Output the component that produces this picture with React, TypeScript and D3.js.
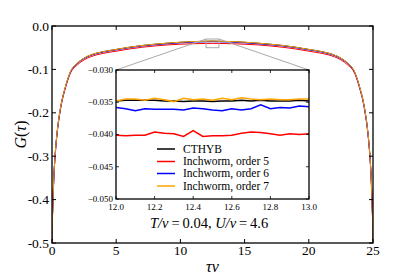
import React from "react";
import * as d3 from "d3";

const tau = [0, 0.03, 0.08, 0.15, 0.25, 0.4, 0.6, 0.8, 1.0, 1.4, 2.0, 2.5, 3, 4, 5, 6, 7, 8, 9, 10, 11, 12, 12.5, 13, 14, 15, 16, 17, 18, 19, 20, 21, 22, 22.5, 23, 23.6, 24, 24.2, 24.4, 24.6, 24.75, 24.85, 24.92, 24.97, 25];
const gCthyb = [-0.5, -0.45, -0.4, -0.345, -0.295, -0.245, -0.2, -0.168, -0.145, -0.108, -0.085, -0.074, -0.067, -0.059, -0.054, -0.049, -0.045, -0.042, -0.0395, -0.0375, -0.036, -0.0352, -0.0348, -0.0352, -0.036, -0.0375, -0.0395, -0.042, -0.045, -0.049, -0.054, -0.059, -0.067, -0.074, -0.085, -0.108, -0.145, -0.168, -0.2, -0.245, -0.295, -0.345, -0.4, -0.45, -0.5];
const gOrder5 = [-0.5, -0.45, -0.4, -0.346, -0.297, -0.247, -0.203, -0.171, -0.148, -0.111, -0.089, -0.078, -0.071, -0.063, -0.058, -0.053, -0.049, -0.046, -0.0435, -0.042, -0.0408, -0.0402, -0.0401, -0.0402, -0.0408, -0.042, -0.0435, -0.046, -0.049, -0.053, -0.058, -0.063, -0.071, -0.078, -0.089, -0.111, -0.148, -0.171, -0.203, -0.247, -0.297, -0.346, -0.4, -0.45, -0.5];
const gOrder6 = [-0.5, -0.45, -0.4, -0.345, -0.296, -0.246, -0.201, -0.169, -0.146, -0.109, -0.086, -0.075, -0.068, -0.060, -0.055, -0.050, -0.046, -0.0432, -0.0408, -0.0388, -0.0372, -0.0364, -0.0361, -0.0364, -0.0372, -0.0388, -0.0408, -0.0432, -0.046, -0.050, -0.055, -0.060, -0.068, -0.075, -0.086, -0.109, -0.146, -0.169, -0.201, -0.246, -0.296, -0.345, -0.4, -0.45, -0.5];
const gOrder7 = [-0.5, -0.45, -0.4, -0.345, -0.295, -0.245, -0.2, -0.168, -0.145, -0.108, -0.085, -0.074, -0.067, -0.059, -0.054, -0.049, -0.045, -0.042, -0.0394, -0.0374, -0.0359, -0.0350, -0.0346, -0.0350, -0.0359, -0.0374, -0.0394, -0.042, -0.045, -0.049, -0.054, -0.059, -0.067, -0.074, -0.085, -0.108, -0.145, -0.168, -0.2, -0.245, -0.295, -0.345, -0.4, -0.45, -0.5];

const insetTau = [12.0, 12.05, 12.1, 12.15, 12.2, 12.25, 12.3, 12.35, 12.4, 12.45, 12.5, 12.55, 12.6, 12.65, 12.7, 12.75, 12.8, 12.85, 12.9, 12.95, 13.0];
const insetCthyb = [-0.0348, -0.0347, -0.0347, -0.0347, -0.0347, -0.0348, -0.0348, -0.0349, -0.0348, -0.0348, -0.0349, -0.0348, -0.0348, -0.0347, -0.0348, -0.0347, -0.0348, -0.0348, -0.0348, -0.0347, -0.0348];
const insetOrder5 = [-0.0401, -0.0402, -0.0401, -0.0401, -0.0396, -0.0398, -0.0399, -0.0403, -0.0394, -0.0403, -0.0402, -0.0402, -0.0401, -0.0398, -0.0396, -0.0397, -0.0399, -0.0401, -0.0399, -0.04, -0.0399];
const insetOrder6 = [-0.0358, -0.036, -0.0363, -0.036, -0.0361, -0.0361, -0.0361, -0.0362, -0.0359, -0.036, -0.0362, -0.0363, -0.036, -0.0362, -0.036, -0.0354, -0.036, -0.0358, -0.0359, -0.0356, -0.0357];
const insetOrder7 = [-0.0348, -0.0345, -0.0345, -0.0347, -0.0344, -0.0346, -0.0349, -0.0344, -0.0346, -0.0345, -0.0347, -0.0344, -0.0346, -0.0343, -0.0345, -0.0346, -0.0345, -0.0346, -0.0346, -0.0345, -0.0345];

const seriesNames = ["CTHYB", "Inchworm, order 5", "Inchworm, order 6", "Inchworm, order 7"];
const seriesColors = ["#000000", "#ff0000", "#0000ff", "#ffa500"];

const mainXTicks = [0, 5, 10, 15, 20, 25];
const mainYTicks = [0, -0.1, -0.2, -0.3, -0.4, -0.5];
const mainYTickLabels = ["0.0", "-0.1", "-0.2", "-0.3", "-0.4", "-0.5"];
const insetXTicks = [12.0, 12.2, 12.4, 12.6, 12.8, 13.0];
const insetXTickLabels = ["12.0", "12.2", "12.4", "12.6", "12.8", "13.0"];
const insetYTicks = [-0.03, -0.035, -0.04, -0.045, -0.05];
const insetYTickLabels = ["\u22120.030", "\u22120.035", "\u22120.040", "\u22120.045", "\u22120.050"];

const SERIF = "'Liberation Serif', 'Times New Roman', serif";

export default function App() {
  const L = 52, R = 373, T = 26, B = 243;
  const x = d3.scaleLinear().domain([0, 25]).range([L, R]);
  const y = d3.scaleLinear().domain([-0.5, 0]).range([B, T]);
  const iL = 116, iR = 309, iT = 70, iB = 199;
  const xi = d3.scaleLinear().domain([12, 13]).range([iL, iR]);
  const yi = d3.scaleLinear().domain([-0.05, -0.03]).range([iB, iT]);

  const mainSeries = [gCthyb, gOrder5, gOrder6, gOrder7];
  const insetSeries = [insetCthyb, insetOrder5, insetOrder6, insetOrder7];

  const mainLine = (vals: number[]) =>
    d3.line<number>().x((_, i) => x(tau[i])).y((v) => y(v)).curve(d3.curveMonotoneX)(vals) || "";
  const insetLine = (vals: number[]) =>
    d3.line<number>().x((_, i) => xi(insetTau[i])).y((v) => yi(v))(vals) || "";

  const rx0 = x(12), rx1 = x(13), ry0 = y(-0.03), ry1 = y(-0.05);
  const legendRows = [149, 161.5, 173.5, 186];

  return (
    <svg width={415} height={277} style={{ position: "absolute", left: 0, top: 0, background: "#fff" }}>
      <defs>
        <clipPath id="mainclip">
          <rect x={L} y={T} width={R - L} height={B - T} />
        </clipPath>
        <clipPath id="insetclip">
          <rect x={iL} y={iT} width={iR - iL} height={iB - iT} />
        </clipPath>
      </defs>
      <rect x={0} y={0} width={415} height={277} fill="#fff" />
      <g clipPath="url(#mainclip)">
        {mainSeries.map((s, k) => (
          <path key={k} d={mainLine(s)} fill="none" stroke={seriesColors[k]} strokeWidth={1} />
        ))}
      </g>
      <rect x={rx0} y={ry0} width={rx1 - rx0} height={ry1 - ry0} fill="none" stroke="#aaaaaa" strokeWidth={1} />
      <line x1={rx0} y1={ry0} x2={iL} y2={iT} stroke="#aaaaaa" strokeWidth={1} />
      <line x1={rx1} y1={ry0} x2={iR} y2={iT} stroke="#aaaaaa" strokeWidth={1} />
      <rect x={L} y={T} width={R - L} height={B - T} fill="none" stroke="#000" strokeWidth={1.3} />
      {mainXTicks.map((t) => (
        <g key={"mx" + t}>
          <line x1={x(t)} x2={x(t)} y1={B} y2={B - 4} stroke="#000" strokeWidth={1} />
          <line x1={x(t)} x2={x(t)} y1={T} y2={T + 4} stroke="#000" strokeWidth={1} />
          <text x={x(t)} y={B + 11.5} textAnchor="middle" fontFamily={SERIF} fontSize={13.5}>{t}</text>
        </g>
      ))}
      {mainYTicks.map((t, i) => (
        <g key={"my" + i}>
          <line x1={L} x2={L + 4} y1={y(t)} y2={y(t)} stroke="#000" strokeWidth={1} />
          <line x1={R} x2={R - 4} y1={y(t)} y2={y(t)} stroke="#000" strokeWidth={1} />
          <text x={L - 3} y={y(t) + 4.5} textAnchor="end" fontFamily={SERIF} fontSize={13.5}>{mainYTickLabels[i]}</text>
        </g>
      ))}
      <text x={(L + R) / 2} y={272} textAnchor="middle" fontFamily={SERIF} fontSize={16} fontStyle="italic">τv</text>
      <text transform={`translate(26,${(T + B) / 2}) rotate(-90)`} textAnchor="middle" fontFamily={SERIF} fontSize={16}>
        <tspan fontStyle="italic">G</tspan><tspan>(</tspan><tspan fontStyle="italic">τ</tspan><tspan>)</tspan>
      </text>
      <text x={150} y={228} fontFamily={SERIF} fontSize={14.5}>
        <tspan fontStyle="italic">T/v</tspan><tspan>{"\u2009=\u20090.04, "}</tspan><tspan fontStyle="italic">U/v</tspan><tspan>{"\u2009=\u20094.6"}</tspan>
      </text>
      <rect x={iL} y={iT} width={iR - iL} height={iB - iT} fill="#fff" stroke="none" />
      <g clipPath="url(#insetclip)">
        {insetSeries.map((s, k) => (
          <path key={k} d={insetLine(s)} fill="none" stroke={seriesColors[k]} strokeWidth={1.5} />
        ))}
      </g>
      <rect x={iL} y={iT} width={iR - iL} height={iB - iT} fill="none" stroke="#000" strokeWidth={1.3} />
      {insetXTicks.map((t, i) => (
        <g key={"ix" + i}>
          <line x1={xi(t)} x2={xi(t)} y1={iB} y2={iB - 3} stroke="#000" strokeWidth={0.8} />
          <line x1={xi(t)} x2={xi(t)} y1={iT} y2={iT + 3} stroke="#000" strokeWidth={0.8} />
          <text x={xi(t)} y={iB + 10.5} textAnchor="middle" fontFamily={SERIF} fontSize={9}>{insetXTickLabels[i]}</text>
        </g>
      ))}
      {insetYTicks.map((t, i) => (
        <g key={"iy" + i}>
          <line x1={iL} x2={iL + 3} y1={yi(t)} y2={yi(t)} stroke="#000" strokeWidth={0.8} />
          <line x1={iR} x2={iR - 3} y1={yi(t)} y2={yi(t)} stroke="#000" strokeWidth={0.8} />
          <text x={iL - 3} y={yi(t) + 2.8} textAnchor="end" fontFamily={SERIF} fontSize={9}>{insetYTickLabels[i]}</text>
        </g>
      ))}
      {seriesNames.map((n, k) => (
        <g key={"lg" + k}>
          <line x1={157} x2={175} y1={legendRows[k]} y2={legendRows[k]} stroke={seriesColors[k]} strokeWidth={1.5} />
          <text x={183} y={legendRows[k] + 3.5} fontFamily={SERIF} fontSize={11.5}>{n}</text>
        </g>
      ))}
    </svg>
  );
}
